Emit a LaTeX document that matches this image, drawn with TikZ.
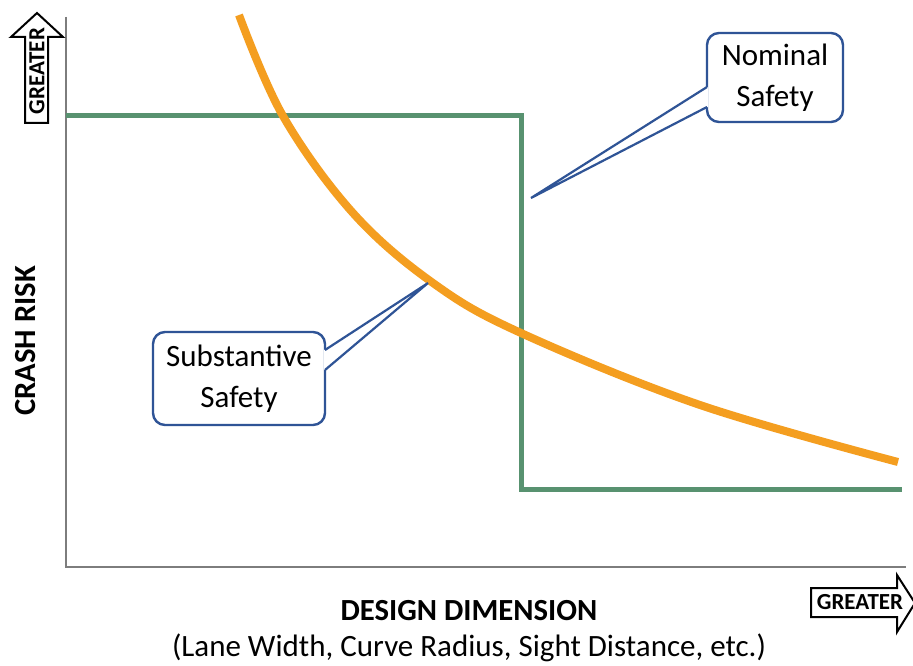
\documentclass[tikz,border=0pt]{standalone}
\usepackage{fontspec}
\setmainfont{Carlito}
\usetikzlibrary{calc}
\definecolor{stepgreen}{RGB}{88,146,112}
\definecolor{riskorange}{RGB}{244,158,32}
\definecolor{callblue}{RGB}{47,84,150}
\definecolor{axisgray}{RGB}{125,125,125}
\begin{document}
\begin{tikzpicture}[x=1pt,y=-1pt,
  axis/.style={draw=axisgray,line width=2.2pt},
  stepline/.style={draw=stepgreen,line width=5pt,line join=miter},
  riskcurve/.style={draw=riskorange,line width=8pt},
  callbox/.style={draw=callblue,line width=2.4pt,fill=white,rounded corners=12pt,
    align=center,inner sep=0pt,font=\fontsize{31}{41}\selectfont},
  callptr/.style={draw=callblue,line width=2.2pt,line join=miter},
  bigarrow/.style={draw=black,line width=2pt,fill=white,line join=miter},
  arrowtext/.style={font=\bfseries\fontsize{23}{23}\selectfont,inner sep=0pt},
  axislabel/.style={font=\bfseries\fontsize{30.7}{31}\selectfont,inner sep=0pt},
  notelabel/.style={font=\fontsize{31}{31}\selectfont,inner sep=0pt}]
\clip (0,0) rectangle (913,666);
\fill[white] (0,0) rectangle (913,666);

% axes
\coordinate (origin) at (66,567);
\coordinate (ytop) at (66,17);
\coordinate (xend) at (906,567);
\draw[axis] (ytop) -- (origin) -- (xend);

% "greater" direction arrows
\draw[bigarrow] (25,123) -- (25,37) -- (11,37) -- (37,13) -- (63,37) -- (48,37) -- (48,123) -- cycle;
\node[arrowtext,rotate=90] (upgreater) at (37,71) {GREATER};
\draw[bigarrow] (811,588) -- (897,588) -- (897,575) -- (915,603) -- (897,632) -- (897,617) -- (811,617) -- cycle;
\node[arrowtext] (rightgreater) at (860,602) {GREATER};

% nominal safety step
\coordinate (s1) at (66,116);
\coordinate (s2) at (521,116);
\coordinate (s3) at (521,489);
\coordinate (s4) at (902,489);
\draw[stepline] (s1) -- (s2) -- (s3) -- (s4);

% substantive safety curve
\draw[riskcurve] plot[smooth,tension=0.6] coordinates
  {(239,15) (283,116) (353,213) (433,283) (521,333) (700,405) (898,462)};

% axis labels
\node[axislabel,rotate=90] (ylabel) at (26,341) {CRASH RISK};
\node[axislabel] (xlabel) at (469,611) {DESIGN DIMENSION};
\node[notelabel] (xnote) at (469,648) {(Lane Width, Curve Radius, Sight Distance, etc.)};

% callouts
\node[callbox,minimum width=136pt,minimum height=89pt] (nominal) at (775,77.5) {Nominal\\Safety};
\coordinate (nomtip) at (531,198);
\fill[white] ($(nominal.west)+(2,9.5)$) -- (nomtip) -- ($(nominal.west)+(2,29.5)$) -- cycle;
\draw[callptr] ($(nominal.west)+(1.2,9.5)$) -- (nomtip) -- ($(nominal.west)+(1.2,29.5)$);

\node[callbox,minimum width=172pt,minimum height=93pt] (substantive) at (239,378.5) {Substantive\\Safety};
\coordinate (subtip) at (428,283);
\fill[white] ($(substantive.east)+(-2,-28.5)$) -- (subtip) -- ($(substantive.east)+(-2,-8.5)$) -- cycle;
\draw[callptr] ($(substantive.east)+(-1.2,-28.5)$) -- (subtip) -- ($(substantive.east)+(-1.2,-8.5)$);
\end{tikzpicture}
\end{document}
